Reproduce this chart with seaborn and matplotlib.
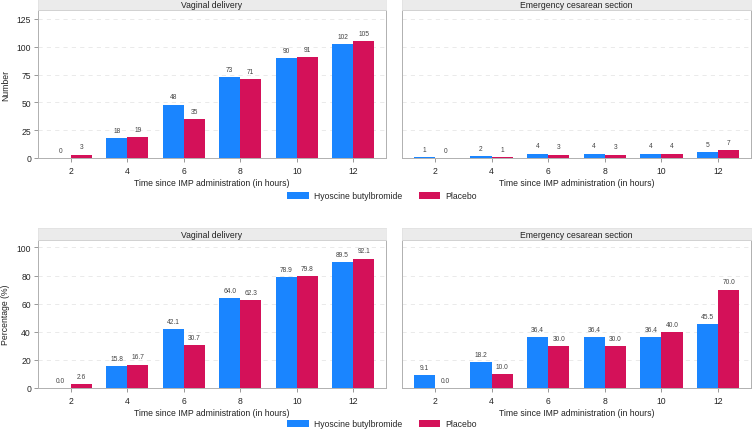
import matplotlib
matplotlib.use("Agg")
import matplotlib.pyplot as plt
import seaborn as sns
import pandas as pd
from matplotlib.patches import Patch

sns.set_theme(style="white")
plt.rcParams['font.family'] = ['Liberation Sans', 'DejaVu Sans']

times = ["2", "4", "6", "8", "10", "12"]
groups = ["Hyoscine butylbromide", "Placebo"]
colors = ["#1A85FF", "#D41159"]

vd_num_hyo = [0, 18, 48, 73, 90, 102]
vd_num_pla = [3, 19, 35, 71, 91, 105]
cs_num_hyo = [1, 2, 4, 4, 4, 5]
cs_num_pla = [0, 1, 3, 3, 4, 7]

vd_pct_hyo = [0.0, 15.8, 42.1, 64.0, 78.9, 89.5]
vd_pct_pla = [2.6, 16.7, 30.7, 62.3, 79.8, 92.1]
cs_pct_hyo = [9.1, 18.2, 36.4, 36.4, 36.4, 45.5]
cs_pct_pla = [0.0, 10.0, 30.0, 30.0, 40.0, 70.0]

titles = ["Vaginal delivery", "Emergency cesarean section"]
xlabel = "Time since IMP administration (in hours)"

W, H = 752, 431
FS = 6.2
fig = plt.figure(figsize=(W / 100, H / 100), dpi=100)


def make_df(h, p):
    return pd.DataFrame({
        "time": times * 2,
        "group": [groups[0]] * len(times) + [groups[1]] * len(times),
        "value": list(h) + list(p),
    })


def panel(x0, x1, strip_top, ax_top, ax_bot, h, p, title, ylim, yticks, fmt, ylabel, show_y):
    ax = fig.add_axes([x0 / W, 1 - ax_bot / H, (x1 - x0) / W, (ax_bot - ax_top) / H])
    sax = fig.add_axes([x0 / W, 1 - ax_top / H, (x1 - x0) / W, (ax_top - strip_top) / H])
    sax.set_facecolor("#EBEBEB")
    sax.set_xticks([]); sax.set_yticks([])
    for s in sax.spines.values():
        s.set_color("#E0E0E0"); s.set_linewidth(0.5)
    sax.text(0.5, 0.48, title, ha="center", va="center", fontsize=FS, color="#222222",
             transform=sax.transAxes)

    df = make_df(h, p)
    sns.barplot(data=df, x="time", y="value", hue="group", palette=colors,
                width=0.75, gap=0, ax=ax, legend=False, saturation=1, edgecolor="none")
    for c in ax.containers:
        ax.bar_label(c, fmt=fmt, fontsize=4.8, padding=3, color="#444444")
    ax.set_xlim(-0.58, 5.58)
    ax.set_ylim(*ylim)
    ax.set_yticks(yticks)
    ax.yaxis.grid(True, linestyle=(0, (5, 5)), color="#E6E6E6", linewidth=0.6)
    ax.set_axisbelow(True)
    for s in ax.spines.values():
        s.set_color("#B0B0B0"); s.set_linewidth(0.7)
    ax.set_xlabel(xlabel, fontsize=FS, color="#222222", labelpad=2)
    ax.tick_params(axis="x", labelsize=FS, length=3, width=0.6, color="#888888", pad=3, bottom=True)
    if show_y:
        ax.set_ylabel(ylabel, fontsize=FS, color="#222222")
        ax.yaxis.label.set_verticalalignment("center")
        ax.yaxis.set_label_coords(-0.093, 0.5)
        ax.tick_params(axis="y", labelsize=FS, length=3, width=0.6, color="#888888", pad=2, left=True)
    else:
        ax.set_ylabel("")
        ax.tick_params(axis="y", left=False, labelleft=False)
    return ax


# top row
panel(38, 386, 0, 11, 159, vd_num_hyo, vd_num_pla, titles[0], (0, 133), [0, 25, 50, 75, 100, 125], "%d", "Number", True)
panel(402, 751, 0, 11, 159, cs_num_hyo, cs_num_pla, titles[1], (0, 133), [0, 25, 50, 75, 100, 125], "%d", "Number", False)
# bottom row
panel(38, 386, 229, 241, 389, vd_pct_hyo, vd_pct_pla, titles[0], (0, 105.3), [0, 20, 40, 60, 80, 100], "%.1f", "Percentage (%)", True)
panel(402, 751, 229, 241, 389, cs_pct_hyo, cs_pct_pla, titles[1], (0, 105.3), [0, 20, 40, 60, 80, 100], "%.1f", "Percentage (%)", False)

handles = [Patch(facecolor=c, edgecolor="none") for c in colors]
for yc in (197, 425):
    fig.legend(handles, groups, loc="center", bbox_to_anchor=(382 / W, 1 - yc / H),
               ncol=2, frameon=False, fontsize=FS, handlelength=2.5, handleheight=1.0,
               columnspacing=1.9, handletextpad=0.6)

fig.savefig("out.png", dpi=100, facecolor="white")
